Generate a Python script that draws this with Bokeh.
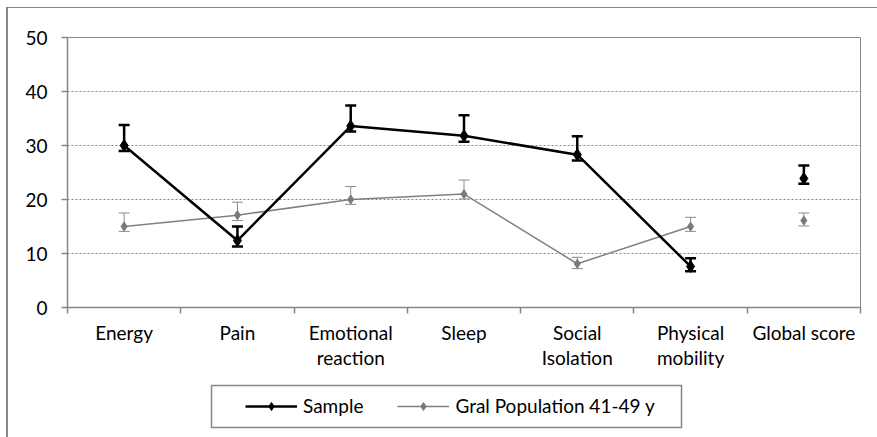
from bokeh.plotting import figure
from bokeh.layouts import column
from bokeh.models import (ColumnDataSource, Range1d, FixedTicker, Whisker, TeeHead,
                          Legend, LegendItem, BoxAnnotation)
from bokeh.embed import file_html
from bokeh.resources import INLINE

categories = ["Energy", "Pain", "Emotional\nreaction", "Sleep", "Social\nIsolation",
              "Physical\nmobility", "Global score"]
sample = [30.0, 12.4, 33.6, 31.8, 28.3, 7.6, 23.9]
sample_upper = [33.8, 15.0, 37.4, 35.6, 31.7, 9.1, 26.3]
sample_lower = [29.0, 11.3, 32.6, 30.7, 27.2, 6.7, 22.9]
gral = [15.0, 17.1, 20.0, 21.0, 8.1, 15.0, 16.1]
gral_upper = [17.5, 19.5, 22.4, 23.6, 9.3, 16.7, 17.5]
gral_lower = [14.1, 16.1, 19.1, 20.1, 7.2, 14.1, 15.1]
y_ticks = [0, 10, 20, 30, 40, 50]
series_names = ["Sample", "Gral Population 41-49 y"]
n_joined = 6  # categories joined by the line (Global score stands alone)

FONT = "Lato"
GRAY = "#868686"

idx = list(range(len(categories)))
src_s = ColumnDataSource(dict(x=idx, y=sample, upper=sample_upper, lower=sample_lower))
src_g = ColumnDataSource(dict(x=idx, y=gral, upper=gral_upper, lower=gral_lower))
src_sl = ColumnDataSource(dict(x=idx[:n_joined], y=sample[:n_joined]))
src_gl = ColumnDataSource(dict(x=idx[:n_joined], y=gral[:n_joined]))

W = 869
BL, BR = 59, 17
p = figure(width=W, height=367, x_range=Range1d(-0.5, len(categories) - 0.5),
           y_range=Range1d(0, 50), output_backend="svg", toolbar_location=None,
           min_border_left=BL, min_border_right=BR, min_border_top=29, min_border_bottom=68)
p.background_fill_color = "white"
p.border_fill_color = "white"
p.outline_line_color = GRAY
p.outline_line_width = 1

# axes
p.xaxis.ticker = FixedTicker(ticks=idx, minor_ticks=[i - 0.5 for i in range(len(categories) + 1)])
p.xaxis.major_label_overrides = {i: c for i, c in zip(idx, categories)}
p.xaxis.major_tick_line_color = None
p.xaxis.major_tick_out = 0
p.xaxis.major_tick_in = 0
p.xaxis.minor_tick_line_color = GRAY
p.xaxis.minor_tick_line_width = 1.5
p.xaxis.minor_tick_out = 6
p.xaxis.minor_tick_in = 0
p.xaxis.major_label_standoff = 7
p.yaxis.ticker = FixedTicker(ticks=y_ticks)
p.yaxis.minor_tick_line_color = None
p.yaxis.major_tick_out = 6
p.yaxis.major_tick_in = 0
p.yaxis.major_tick_line_color = GRAY
p.yaxis.major_tick_line_width = 1.5
p.yaxis.major_label_standoff = 14
for ax in (p.xaxis, p.yaxis):
    ax.axis_line_color = GRAY
    ax.axis_line_width = 1.5
    ax.major_label_text_font = FONT
    ax.major_label_text_font_size = "19px"
    ax.major_label_text_color = "black"
    ax.major_label_text_line_height = 1.1

p.xgrid.visible = False
p.ygrid.ticker = FixedTicker(ticks=[t for t in y_ticks if 0 < t < 50])
p.ygrid.grid_line_color = GRAY
p.ygrid.grid_line_dash = "2 2"
p.ygrid.grid_line_width = 1

G_LINE = dict(line_color="#808080", line_width=1.5)
G_MARK = dict(marker="diamond", color="#7a7a7a")
S_LINE = dict(line_color="black", line_width=2.5)
S_MARK = dict(marker="diamond", color="black")

# gray series
p.line("x", "y", source=src_gl, **G_LINE)
p.scatter("x", "y", source=src_g, size=9, **G_MARK)
p.add_layout(Whisker(base="x", upper="upper", lower="lower", source=src_g,
                     line_color="#8a8a8a", line_width=1,
                     upper_head=TeeHead(size=11, line_color="#8a8a8a", line_width=1),
                     lower_head=TeeHead(size=11, line_color="#8a8a8a", line_width=1)))

# sample series
p.line("x", "y", source=src_sl, **S_LINE)
p.scatter("x", "y", source=src_s, size=12, **S_MARK)
p.add_layout(Whisker(base="x", upper="upper", lower="lower", source=src_s,
                     line_color="black", line_width=2.5,
                     upper_head=TeeHead(size=11, line_color="black", line_width=2.5),
                     lower_head=TeeHead(size=11, line_color="black", line_width=2.5)))

# legend strip below the chart (its x data units are canvas pixels)
LH = 62
leg = figure(width=W, height=LH, x_range=Range1d(BL, W - BR), y_range=Range1d(0, LH),
             output_backend="svg", toolbar_location=None,
             x_axis_location=None, y_axis_location=None,
             min_border_left=BL, min_border_right=BR, min_border_top=0, min_border_bottom=0)
leg.grid.visible = False
leg.outline_line_color = None
leg.background_fill_color = "white"
leg.border_fill_color = "white"
ls = leg.line("x", "y", source=src_sl, visible=False, **S_LINE)
ss = leg.scatter("x", "y", source=src_s, size=10, visible=False, **S_MARK)
lg = leg.line("x", "y", source=src_gl, visible=False, **G_LINE)
sg = leg.scatter("x", "y", source=src_g, size=7, visible=False, **G_MARK)
leg.add_layout(BoxAnnotation(left=203, right=673, bottom=10, top=52,
                             fill_alpha=0, line_color=GRAY, line_alpha=1, line_width=1.5))
legend = Legend(items=[LegendItem(label=series_names[0], renderers=[ls, ss]),
                       LegendItem(label=series_names[1], renderers=[lg, sg])],
                orientation="horizontal", location=(178, 20),
                border_line_color=None, background_fill_alpha=0, padding=0, margin=0,
                spacing=34, glyph_width=52, glyph_height=20, label_standoff=6,
                inactive_fill_alpha=0,
                label_text_font=FONT, label_text_font_size="19px", label_text_color="black")
leg.add_layout(legend)

layout = column(p, leg, spacing=0)
layout.styles = {"margin-left": "6px", "margin-top": "7px",
                 "border-left": "2px solid #868686", "border-top": "1px solid #868686"}

open("out.html", "w").write(file_html(layout, INLINE))
